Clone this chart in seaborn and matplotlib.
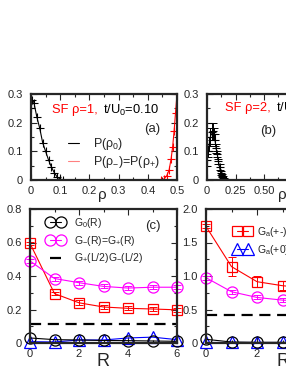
import matplotlib
matplotlib.use("Agg")
import matplotlib.pyplot as plt
import seaborn as sns
from matplotlib.ticker import MultipleLocator, FixedLocator

# ---- data ----
rho_a0 = [0.0, 0.005, 0.01, 0.02, 0.03, 0.04, 0.05, 0.06, 0.07, 0.08, 0.09, 0.10, 0.11]
p_a0 = [0.25, 0.28, 0.27, 0.22, 0.18, 0.13, 0.10, 0.07, 0.045, 0.025, 0.01, 0.003, 0.0]
rho_apm = [0.445, 0.455, 0.465, 0.473, 0.48, 0.485, 0.49, 0.495, 0.50, 0.505]
p_apm = [0.0, 0.003, 0.015, 0.035, 0.075, 0.115, 0.17, 0.235, 0.30, 0.36]

rho_b0 = [0.0, 0.01, 0.02, 0.03, 0.04, 0.05, 0.06, 0.07, 0.08, 0.09,
          0.10, 0.11, 0.12, 0.13, 0.14, 0.15, 0.16, 0.17]
p_b0 = [0.07, 0.10, 0.125, 0.15, 0.168, 0.17, 0.16, 0.14, 0.11, 0.09,
        0.065, 0.045, 0.025, 0.015, 0.008, 0.004, 0.002, 0.0]
p_b0_err = [0.02, 0.02, 0.025, 0.03, 0.03, 0.03, 0.02, 0.02, 0.015, 0.01,
            0.01, 0.01, 0.008, 0.006, 0.005, 0.004, 0.003, 0.002]

R = [0, 1, 2, 3, 4, 5, 6]
c_sq = [0.595, 0.295, 0.24, 0.215, 0.207, 0.203, 0.198]
c_sq_err = [0.01, 0.01, 0.015, 0.012, 0.012, 0.012, 0.01]
c_circ = [0.49, 0.385, 0.36, 0.338, 0.328, 0.333, 0.333]
c_circ_err = [0.01, 0.012, 0.012, 0.012, 0.012, 0.012, 0.012]
c_g0 = [0.03, 0.02, 0.018, 0.015, 0.014, 0.012, 0.01]
c_tri = [0.008, 0.006, 0.018, 0.018, 0.03, 0.035, 0.02]
c_dash = 0.115

d_sq = [1.74, 1.14, 0.915, 0.855, 0.82, 0.80, 0.79]
d_sq_err = [0.03, 0.14, 0.08, 0.07, 0.06, 0.06, 0.06]
d_circ = [0.975, 0.765, 0.68, 0.64, 0.62, 0.61, 0.60]
d_circ_err = [0.03, 0.03, 0.03, 0.03, 0.03, 0.03, 0.03]
d_g0 = [0.055, 0.015, 0.01, 0.01, 0.01, 0.01, 0.01]
d_tri = [0.01, 0.01, 0.01, 0.01, 0.01, 0.01, 0.01]
d_dash = 0.415

xt_a = [0, 0.1, 0.2, 0.3, 0.4, 0.5]
xl_a = ["0", "0.1", "0.2", "0.3", "0.4", "0.5"]
xt_b = [0, 0.25, 0.5]
xl_b = ["0", "0.25", "0.50"]
yt_p = [0, 0.1, 0.2, 0.3]
yl_p = ["0", "0.1", "0.2", "0.3"]
xt_R = [0, 2, 4, 6]
xl_R = ["0", "2", "4", "6"]
yt_c = [0, 0.2, 0.4, 0.6, 0.8]
yl_c = ["0", "0.2", "0.4", "0.6", "0.8"]
yt_d = [0, 0.5, 1.0, 1.5, 2.0]
yl_d = ["0", "0.5", "1.0", "1.5", "2.0"]

sns.set_style("ticks")
plt.rcParams["font.family"] = ["Liberation Sans", "DejaVu Sans"]
plt.rcParams["mathtext.default"] = "regular"

W, H = 286, 371
fig = plt.figure(figsize=(W / 100, H / 100), dpi=100)
fig.patch.set_facecolor("white")


def px_axes(l, t, r, b):
    return fig.add_axes([l / W, (H - b) / H, (r - l) / W, (b - t) / H])


def style(ax, xmin, ymin):
    for s in ax.spines.values():
        s.set_linewidth(1.6)
        s.set_visible(True)
    ax.xaxis.set_minor_locator(MultipleLocator(xmin))
    ax.yaxis.set_minor_locator(MultipleLocator(ymin))
    ax.tick_params(which="both", direction="in", top=True, right=True,
                   labelsize=8, width=0.8)
    ax.tick_params(which="major", length=4)
    ax.tick_params(which="minor", length=2.5)
    ax.tick_params(axis="y", pad=6)
    ax.tick_params(axis="x", pad=4)


def two_tone(x, y, red, black):
    t = fig.text(x / W, 1 - y / H, red, color="red", fontsize=9.3,
                 ha="left", va="center")
    fig.add_artist(plt.Annotation(black, xy=(1, 0.5), xycoords=t,
                                  xytext=(3.5, 0), textcoords="offset points",
                                  va="center", ha="left", fontsize=9.3,
                                  color="black"))
    return t


# ---------- (a) ----------
ax_a = px_axes(31, 94, 177, 180)
sns.lineplot(x=rho_a0, y=p_a0, ax=ax_a, color="black", lw=0.8,
             marker="+", ms=6, mew=0.8, mec="black", label="P($\\rho_0$)")
sns.lineplot(x=rho_apm, y=p_apm, ax=ax_a, color="red", lw=0.8,
             marker="+", ms=6, mew=0.8, mec="red",
             label="P($\\rho_{-}$)=P($\\rho_{+}$)")
ax_a.set_xlim(0, 0.5)
ax_a.set_ylim(0, 0.3)
ax_a.xaxis.set_major_locator(FixedLocator(xt_a))
ax_a.set_xticklabels(xl_a)
ax_a.yaxis.set_major_locator(FixedLocator(yt_p))
ax_a.set_yticklabels(yl_p)
style(ax_a, 0.05, 0.05)
leg = ax_a.legend(loc="upper left", bbox_to_anchor=((68 - 31) / 146, (180 - 136) / 86),
                  frameon=False, fontsize=9, handlelength=0.9, handletextpad=1.1,
                  borderpad=0, borderaxespad=0, labelspacing=0.2)
for h in leg.legend_handles:
    h.set_marker("")
leg.legend_handles[1].set_color("#ff8080")
two_tone(52, 110, "SF ρ=1,", "t/U$_0$=0.10")
fig.text(152 / W, 1 - 129 / H, "(a)", fontsize=9.5, ha="center", va="center")
fig.text(102 / W, 1 - 195 / H, "ρ", fontsize=11, ha="center", va="center")

# ---------- (b) ----------
ax_b = px_axes(207, 94, 207 + 0.8 * 114, 180)
ax_b.errorbar(rho_b0, p_b0, yerr=p_b0_err, fmt="none", ecolor="black",
              elinewidth=0.7, capsize=3, capthick=0.7)
sns.lineplot(x=rho_b0, y=p_b0, ax=ax_b, color="black", lw=0.8,
             marker="+", ms=6, mew=0.8, mec="black")
ax_b.set_xlim(0, 0.8)
ax_b.set_ylim(0, 0.3)
ax_b.xaxis.set_major_locator(FixedLocator(xt_b))
ax_b.set_xticklabels(xl_b)
ax_b.yaxis.set_major_locator(FixedLocator(yt_p))
ax_b.set_yticklabels(yl_p)
style(ax_b, 0.125, 0.05)
two_tone(225, 108, "SF ρ=2,", "t/U$_0$=0.10")
fig.text(268 / W, 1 - 131 / H, "(b)", fontsize=9.5, ha="center", va="center")
fig.text(282 / W, 1 - 195 / H, "ρ", fontsize=11, ha="center", va="center")


def g_panel(ax, sq, sq_err, circ, circ_err, g0, tri, dash):
    ax.errorbar(R, sq, yerr=sq_err, fmt="none", ecolor="red",
                elinewidth=0.7, capsize=3, capthick=0.7, clip_on=False)
    ax.errorbar(R, circ, yerr=circ_err, fmt="none", ecolor="magenta",
                elinewidth=0.7, capsize=3, capthick=0.7, clip_on=False)
    sns.lineplot(x=R, y=sq, ax=ax, color="red", lw=0.8, marker="s", ms=7,
                 mfc="none", mec="red", mew=0.9, clip_on=False,
                 label="G$_a$(+-)")
    sns.lineplot(x=R, y=circ, ax=ax, color="magenta", lw=0.8, marker="o",
                 ms=8, mfc="none", mec="magenta", mew=0.9, clip_on=False,
                 label="G$_{-}$(R)=G$_{+}$(R)")
    sns.lineplot(x=R, y=tri, ax=ax, color="blue", lw=0.8, marker="^",
                 ms=8, mfc="none", mec="blue", mew=0.9, clip_on=False,
                 label="G$_a$(+0)")
    sns.lineplot(x=R, y=g0, ax=ax, color="black", lw=0.8, marker="o",
                 ms=8, mfc="none", mec="black", mew=0.9, clip_on=False,
                 label="G$_0$(R)")
    ax.axhline(dash, color="black", lw=1.6, dashes=(5, 3),
               label="G$_{+}$(L/2)G$_{-}$(L/2)")
    ax.set_xlim(0, 6)
    ax.xaxis.set_major_locator(FixedLocator(xt_R))
    ax.set_xticklabels(xl_R)
    return ax.get_legend_handles_labels()


# ---------- (c) ----------
ax_c = px_axes(30, 209, 177, 343)
hs, ls = g_panel(ax_c, c_sq, c_sq_err, c_circ, c_circ_err, c_g0, c_tri, c_dash)
ax_c.set_ylim(0, 0.8)
ax_c.yaxis.set_major_locator(FixedLocator(yt_c))
ax_c.set_yticklabels(yl_c)
style(ax_c, 1, 0.1)
hmap = dict(zip(ls, hs))
keys = ["G$_0$(R)", "G$_{-}$(R)=G$_{+}$(R)", "G$_{+}$(L/2)G$_{-}$(L/2)"]
ax_c.legend([hmap[k] for k in keys], keys, loc="upper left",
            bbox_to_anchor=((47 - 30) / 147, (343 - 216) / 134),
            frameon=False, fontsize=7.5, handlelength=1.6, handletextpad=1.0,
            borderpad=0, borderaxespad=0, labelspacing=0.35, numpoints=2)
fig.text(153 / W, 1 - 226 / H, "(c)", fontsize=9.5, ha="center", va="center")
fig.text(103 / W, 1 - 361 / H, "R", fontsize=13, ha="center", va="center")

# ---------- (d) ----------
ax_d = px_axes(206, 209, 359, 343)
hs, ls = g_panel(ax_d, d_sq, d_sq_err, d_circ, d_circ_err, d_g0, d_tri, d_dash)
ax_d.set_ylim(0, 2.0)
ax_d.yaxis.set_major_locator(FixedLocator(yt_d))
ax_d.set_yticklabels(yl_d)
style(ax_d, 1, 0.25)
hmap = dict(zip(ls, hs))
keys = ["G$_a$(+-)", "G$_a$(+0)"]
ax_d.legend([hmap[k] for k in keys], keys, loc="upper left",
            bbox_to_anchor=((234 - 206) / 153, (343 - 225) / 134),
            frameon=False, fontsize=7.5, handlelength=1.6, handletextpad=0.6,
            borderpad=0, borderaxespad=0, labelspacing=0.35, numpoints=2)
fig.text(283 / W, 1 - 361 / H, "R", fontsize=13, ha="center", va="center")

fig.savefig("out.png", dpi=100)
